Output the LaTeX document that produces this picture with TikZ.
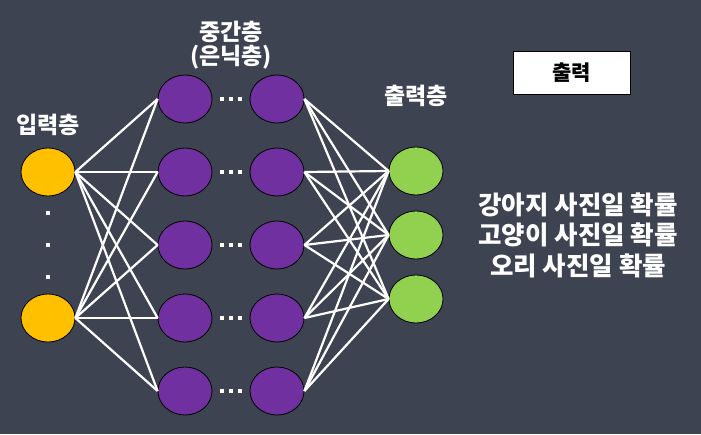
\documentclass[tikz,border=0pt]{standalone}
\usepackage{fontspec}
\newfontfamily\kr{Noto Sans CJK KR}
\usetikzlibrary{shapes.geometric}
\definecolor{bg}{HTML}{3D4350}
\definecolor{inyellow}{HTML}{FFC000}
\definecolor{hidpurple}{HTML}{7030A0}
\definecolor{outgreen}{HTML}{92D050}
\begin{document}
\begin{tikzpicture}[x=1pt,y=-1pt,
  neuron/.style={ellipse, draw=black, line width=0.8pt, minimum width=54pt, minimum height=48pt, inner sep=0pt},
  inp/.style={neuron, fill=inyellow},
  hid/.style={neuron, fill=hidpurple},
  outn/.style={neuron, fill=outgreen},
  lbl/.style={text=white, font=\kr\bfseries\fontsize{23}{26}\selectfont, inner sep=0pt},
  link/.style={draw=white, line width=2.2pt},
  sq/.style={rectangle, fill=white, draw=none, minimum size=4.5pt, inner sep=0pt},
  sqs/.style={rectangle, fill=white, draw=none, minimum size=3.5pt, inner sep=0pt}
]
\fill[bg] (0,0) rectangle (701,434);
\useasboundingbox (0,0) rectangle (701,434);

% input layer
\node[inp] (i1) at (48,172) {};
\node[inp] (i2) at (48,318) {};
\node[sqs] (d1) at (48,213) {};
\node[sqs] (d2) at (48,245) {};
\node[sqs] (d3) at (48,277) {};

% hidden layer
\foreach \k/\y in {1/99,2/172,3/245,4/318,5/391}{
  \node[hid] (ha\k) at (185,\y) {};
  \node[hid] (hb\k) at (277,\y) {};
  \node[sq] (e\k a) at (222,\y) {};
  \node[sq] (e\k b) at (231,\y) {};
  \node[sq] (e\k c) at (240,\y) {};
}

% output layer
\node[outn] (o1) at (416,171) {};
\node[outn] (o2) at (416,235) {};
\node[outn] (o3) at (416,299) {};

% connections
\foreach \i in {1,2}{
  \foreach \k in {1,...,5}{
    \draw[link] (i\i.east) -- (ha\k.west);
  }
}
\foreach \k in {1,...,5}{
  \foreach \o in {1,2,3}{
    \draw[link] (hb\k.east) -- (o\o.west);
  }
}

% labels
\node[lbl] (lin) at (48,125) {입력층};
\node[lbl] (lhid1) at (231,32) {중간층};
\node[lbl] (lhid2) at (231,57) {(은닉층)};
\node[lbl] (lout) at (416,96) {출력층};

% output box
\node[rectangle, draw=black, line width=0.8pt, fill=white, minimum width=117pt, minimum height=43pt, inner sep=0pt,
      font=\kr\bfseries\fontsize{21}{24}\selectfont] (box) at (571.5,72.5) {출력};

% probabilities
\node[text=white, align=center, inner sep=0pt, font=\kr\bfseries\fontsize{25.5}{30.5}\selectfont] (probs) at (578,235)
  {강아지 사진일 확률\\고양이 사진일 확률\\오리 사진일 확률};
\end{tikzpicture}
\end{document}
